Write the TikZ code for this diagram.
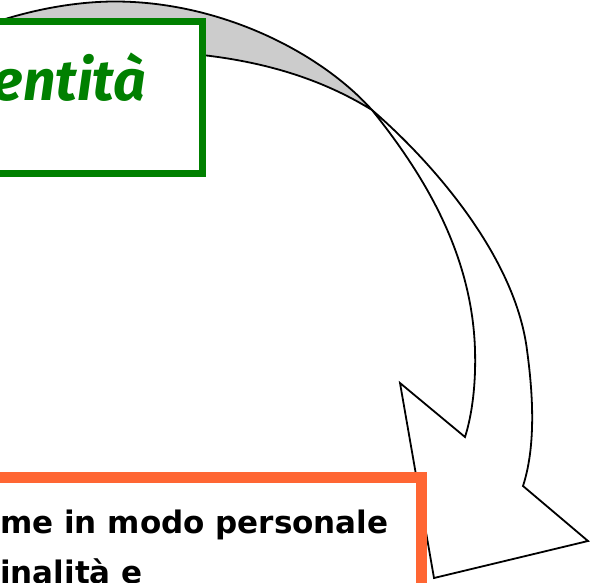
\documentclass[tikz,border=0pt]{standalone}
\usepackage{fontspec}
\usepackage{xcolor}
\newfontfamily\titlefont{Fira Sans}
\newfontfamily\bodyfont{DejaVu Sans}
\definecolor{boxgreen}{HTML}{008000}
\definecolor{boxorange}{HTML}{FF6633}
\definecolor{backgray}{HTML}{CCCCCC}

\begin{document}
\begin{tikzpicture}[x=1pt, y=-1pt,
		arrowline/.style={draw=black, line width=1.8pt, line join=miter},
		greenbox/.style={draw=boxgreen, fill=white, line width=7pt},
		orangebox/.style={draw=boxorange, fill=white, line width=11pt},
		title/.style={text=boxgreen, inner sep=0, font=\titlefont\bfseries\itshape\fontsize{57}{60}\selectfont},
		bodyline/.style={inner sep=0, font=\bodyfont\bfseries\fontsize{31}{36}\selectfont},
	]
	\clip (0,0) rectangle (594,582);

	\coordinate (start) at (-10,24);
	\coordinate (top) at (115,1.5);
	\coordinate (cross) at (372,110);
	\coordinate (back) at (120,51);
	\coordinate (outer) at (527,350);
	\coordinate (inner) at (475,350);
	\coordinate (outerend) at (523,486);
	\coordinate (innerend) at (465,437);
	\coordinate (barbright) at (588,541);
	\coordinate (tip) at (434,578);
	\coordinate (barbleft) at (400,383);

	\filldraw[arrowline, fill=backgray] (start) .. controls (30,10) and (75,1.5) .. (top)
		.. controls (220,1.5) and (320,52) .. (cross)
		.. controls (320,78) and (245,50) .. (back) -- (-10,60) -- cycle;
	\draw[arrowline, fill=white] (cross) .. controls (430,160) and (515,255) .. (outer)
		.. controls (531,380) and (538,440) .. (outerend)
		-- (barbright) -- (tip) -- (barbleft) -- (innerend)
		.. controls (472,415) and (476,385) .. (inner)
		.. controls (472,250) and (420,170) .. (cross) -- cycle;

	\draw[greenbox] (-100,21.5) rectangle (202.5,173.5);
	\node[title, anchor=base east] (identita) at (146,100) {entità};

	\draw[orangebox] (-100,477.5) rectangle (421.5,700);
	\node[bodyline, anchor=base west] (riga1) at (0,533) {me in modo personale};
	\node[bodyline, anchor=base west] (riga2) at (0,583) {inalità e};
\end{tikzpicture}
\end{document}
